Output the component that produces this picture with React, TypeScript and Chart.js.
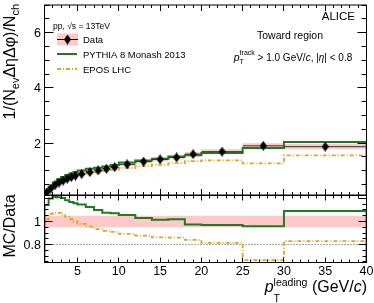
import React, { useEffect, useRef } from 'react';
import { Chart, registerables } from 'chart.js';

Chart.register(...registerables);

const FONT = '"Liberation Sans", Arial, Helvetica, sans-serif';

// ---------------- data ----------------
const binEdges = [1, 1.5, 2, 2.5, 3, 3.5, 4, 4.5, 5, 6, 7, 8, 9, 10, 12, 14, 16, 18, 20, 25, 30, 40];
const dataValues = [0.21, 0.35, 0.47, 0.57, 0.64, 0.71, 0.77, 0.82, 0.88, 0.95, 1.01, 1.07, 1.13, 1.23, 1.33, 1.41, 1.48, 1.6, 1.69, 1.9, 1.87];
const dataStatErr = [0.004, 0.005, 0.006, 0.007, 0.008, 0.009, 0.01, 0.011, 0.012, 0.014, 0.016, 0.018, 0.02, 0.02, 0.024, 0.028, 0.032, 0.036, 0.035, 0.05, 0.055];
const dataSysFrac = [0.05, 0.05, 0.05, 0.05, 0.05, 0.05, 0.05, 0.05, 0.05, 0.05, 0.05, 0.05, 0.05, 0.05, 0.05, 0.05, 0.05, 0.05, 0.05, 0.05, 0.05];
const pythiaValues = [0.24, 0.42, 0.57, 0.69, 0.77, 0.84, 0.9, 0.95, 1.01, 1.07, 1.11, 1.15, 1.21, 1.3, 1.37, 1.43, 1.51, 1.56, 1.64, 1.82, 2.04];
const eposValues = [0.214, 0.373, 0.505, 0.613, 0.678, 0.738, 0.785, 0.82, 0.862, 0.907, 0.944, 0.984, 1.028, 1.098, 1.168, 1.215, 1.273, 1.344, 1.377, 1.264, 1.552];

const xTickLabels = [5, 10, 15, 20, 25, 30, 35, 40];
const topYTickLabels = [2, 4, 6];
const ratioYTickLabels = [0.8, 1];
const ratioRefLine = 0.8;

const X_MIN = 1, X_MAX = 40;
const TOP_Y_MIN = 0.12, TOP_Y_MAX = 7;
const RATIO_Y_MIN = 0.645, RATIO_Y_MAX = 1.225;

// ---------------- style ----------------
const GREEN = '#207a20';
const ORANGE = '#dba526';
const PINK = '#ffc9c9';
const DASHDOT = [4, 2, 1, 2];

const TOP_CANVAS_H = 200;
const BOT_CANVAS_TOP = 190;
const BOT_CANVAS_H = 113;

// ---------------- helpers ----------------
const nBins = binEdges.length - 1;
const centers = dataValues.map((_, i) => (binEdges[i] + binEdges[i + 1]) / 2);

// stepped 'before': horizontal at previous value, then vertical at the new point
function histPoints(values: number[], base: number) {
  const pts: { x: number; y: number | null }[] = [{ x: binEdges[0], y: base }];
  pts.push({ x: binEdges[0], y: values[0] });
  values.forEach((v, i) => pts.push({ x: binEdges[i + 1], y: i + 1 < values.length ? values[i + 1] : v }));
  pts.push({ x: binEdges[nBins], y: base });
  return pts;
}
function stepPoints(values: number[]) {
  const pts: { x: number; y: number | null }[] = [{ x: binEdges[0], y: values[0] }];
  values.forEach((v, i) => pts.push({ x: binEdges[i + 1], y: i + 1 < values.length ? values[i + 1] : v }));
  return pts;
}
function xErrPoints(values: number[]) {
  const pts: { x: number; y: number | null }[] = [];
  values.forEach((v, i) => {
    pts.push({ x: binEdges[i], y: v });
    pts.push({ x: binEdges[i + 1], y: v });
    pts.push({ x: binEdges[i + 1], y: null });
  });
  return pts;
}
function yErrPoints(values: number[], errs: number[]) {
  const pts: { x: number; y: number | null }[] = [];
  values.forEach((v, i) => {
    pts.push({ x: centers[i], y: v - errs[i] });
    pts.push({ x: centers[i], y: v + errs[i] });
    pts.push({ x: centers[i], y: null });
  });
  return pts;
}

function makeDiamond(w: number, h: number, color: string) {
  const c = document.createElement('canvas');
  c.width = w;
  c.height = h;
  const g = c.getContext('2d')!;
  g.fillStyle = color;
  g.beginPath();
  g.moveTo(w / 2, 0);
  g.lineTo(w, h / 2);
  g.lineTo(w / 2, h);
  g.lineTo(0, h / 2);
  g.closePath();
  g.fill();
  return c;
}

type Run = { t?: string; sup?: string; sub?: string; size: number; italic?: boolean; supDy?: number; subDy?: number };
function fontStr(size: number, italic?: boolean) {
  return `${italic ? 'italic ' : ''}${size}px ${FONT}`;
}
function runWidth(ctx: CanvasRenderingContext2D, r: Run) {
  ctx.font = fontStr(r.size, r.italic);
  if (r.t !== undefined) return ctx.measureText(r.t).width;
  const a = r.sup ? ctx.measureText(r.sup).width : 0;
  const b = r.sub ? ctx.measureText(r.sub).width : 0;
  return Math.max(a, b);
}
function drawRuns(ctx: CanvasRenderingContext2D, runs: Run[], x: number, y: number, align: 'left' | 'right' | 'center') {
  const widths = runs.map((r) => runWidth(ctx, r));
  const total = widths.reduce((s, w) => s + w, 0);
  let cx = align === 'left' ? x : align === 'right' ? x - total : x - total / 2;
  ctx.textAlign = 'left';
  ctx.textBaseline = 'alphabetic';
  runs.forEach((r, i) => {
    ctx.font = fontStr(r.size, r.italic);
    if (r.t !== undefined) ctx.fillText(r.t, cx, y);
    else {
      if (r.sup) ctx.fillText(r.sup, cx, y - (r.supDy ?? 5));
      if (r.sub) ctx.fillText(r.sub, cx, y + (r.subDy ?? 3.5));
    }
    cx += widths[i];
  });
}

const crisp = (v: number) => Math.round(v - 0.5) + 0.5;

type FrameCfg = {
  xMinor: number; xMajor: number; xMajorLen: number; xMinorLen: number;
  yMinor: number; yMajor: number; yMajorLen: number; yMinorLen: number;
  yLabels: number[]; xLabels: number[] | null; offsetY: number;
};

function drawFrame(chart: any, cfg: FrameCfg) {
  const { ctx, chartArea: a, scales } = chart;
  const xs = scales.x, ys = scales.y;
  ctx.save();
  ctx.strokeStyle = '#000';
  ctx.lineWidth = 1;
  ctx.setLineDash([]);
  ctx.strokeRect(a.left, a.top, a.right - a.left, a.bottom - a.top);
  ctx.beginPath();
  for (let k = Math.ceil(xs.min / cfg.xMinor - 1e-6); k * cfg.xMinor <= xs.max + 1e-6; k++) {
    const v = k * cfg.xMinor;
    const px = crisp(xs.getPixelForValue(v));
    const r = v / cfg.xMajor;
    const major = Math.abs(r - Math.round(r)) < 1e-6;
    const len = major ? cfg.xMajorLen : cfg.xMinorLen;
    ctx.moveTo(px, a.bottom);
    ctx.lineTo(px, a.bottom - len);
    ctx.moveTo(px, a.top);
    ctx.lineTo(px, a.top + len);
  }
  for (let k = Math.ceil(ys.min / cfg.yMinor - 1e-6); k * cfg.yMinor <= ys.max + 1e-6; k++) {
    const v = k * cfg.yMinor;
    const py = crisp(ys.getPixelForValue(v));
    const r = v / cfg.yMajor;
    const major = Math.abs(r - Math.round(r)) < 1e-6;
    const len = major ? cfg.yMajorLen : cfg.yMinorLen;
    ctx.moveTo(a.left, py);
    ctx.lineTo(a.left + len, py);
    ctx.moveTo(a.right, py);
    ctx.lineTo(a.right - len, py);
  }
  ctx.stroke();
  ctx.fillStyle = '#000';
  ctx.font = fontStr(12.5);
  ctx.textAlign = 'right';
  ctx.textBaseline = 'alphabetic';
  cfg.yLabels.forEach((v) => {
    ctx.fillText(String(v), a.left - 3.5, ys.getPixelForValue(v) + 4.5);
  });
  if (cfg.xLabels) {
    ctx.textAlign = 'center';
    cfg.xLabels.forEach((v) => {
      ctx.fillText(String(v), xs.getPixelForValue(v), 274.5 - cfg.offsetY);
    });
  }
  ctx.restore();
}

const topDecor = (diamond: HTMLCanvasElement) => ({
  id: 'topDecor',
  afterDraw(chart: any) {
    drawFrame(chart, {
      xMinor: 1, xMajor: 5, xMajorLen: 6, xMinorLen: 3,
      yMinor: 0.5, yMajor: 2, yMajorLen: 9, yMinorLen: 5,
      yLabels: topYTickLabels, xLabels: null, offsetY: 0,
    });
    const ctx: CanvasRenderingContext2D = chart.ctx;
    ctx.save();
    ctx.fillStyle = '#000';
    // y title (rotated)
    ctx.save();
    ctx.translate(15, 4);
    ctx.rotate(-Math.PI / 2);
    drawRuns(ctx, [
      { t: '1/(N', size: 16 },
      { sub: 'ev', size: 11, subDy: 4 },
      { t: 'ΔηΔφ)/N', size: 16 },
      { sub: 'ch', size: 11, subDy: 4 },
    ], 0, 0, 'right');
    ctx.restore();
    // header texts
    ctx.font = fontStr(11.5);
    ctx.textAlign = 'right';
    ctx.fillText('ALICE', 355, 20);
    ctx.font = fontStr(10.5);
    ctx.textAlign = 'center';
    ctx.fillText('Toward region', 290, 38.5);
    drawRuns(ctx, [
      { t: 'p', size: 10.5, italic: true },
      { sup: 'track', sub: 'T', size: 7, supDy: 5.5, subDy: 3.5 },
      { t: ' > 1.0 GeV/', size: 10 },
      { t: 'c', size: 10, italic: true },
      { t: ', |', size: 10 },
      { t: 'η', size: 10, italic: true },
      { t: '| < 0.8', size: 10 },
    ], 293, 60.5, 'center');
    // legend
    ctx.font = fontStr(8.5);
    ctx.textAlign = 'left';
    ctx.fillText('pp, √s = 13TeV', 53, 28.5);
    ctx.fillStyle = PINK;
    ctx.fillRect(57, 33.5, 21, 12);
    ctx.strokeStyle = '#000';
    ctx.lineWidth = 1;
    ctx.beginPath();
    ctx.moveTo(57, 39.5);
    ctx.lineTo(78, 39.5);
    ctx.stroke();
    ctx.drawImage(diamond, 67.5 - diamond.width / 2, 39.5 - diamond.height / 2);
    ctx.strokeStyle = GREEN;
    ctx.lineWidth = 2;
    ctx.beginPath();
    ctx.moveTo(57, 54);
    ctx.lineTo(77, 54);
    ctx.stroke();
    ctx.strokeStyle = ORANGE;
    ctx.setLineDash(DASHDOT);
    ctx.beginPath();
    ctx.moveTo(57, 69);
    ctx.lineTo(77, 69);
    ctx.stroke();
    ctx.setLineDash([]);
    ctx.fillStyle = '#000';
    ctx.font = fontStr(9.5);
    ctx.fillText('Data', 83, 43);
    ctx.fillText('PYTHIA 8 Monash 2013', 83, 57.5);
    ctx.fillText('EPOS LHC', 83, 72.5);
    ctx.restore();
  },
});

const botDecor = {
  id: 'botDecor',
  afterDraw(chart: any) {
    drawFrame(chart, {
      xMinor: 1, xMajor: 5, xMajorLen: 5, xMinorLen: 3,
      yMinor: 0.05, yMajor: 0.2, yMajorLen: 8, yMinorLen: 4,
      yLabels: ratioYTickLabels, xLabels: xTickLabels, offsetY: BOT_CANVAS_TOP,
    });
    const ctx: CanvasRenderingContext2D = chart.ctx;
    ctx.save();
    ctx.fillStyle = '#000';
    ctx.save();
    ctx.translate(15, 226 - BOT_CANVAS_TOP);
    ctx.rotate(-Math.PI / 2);
    drawRuns(ctx, [{ t: 'MC/Data', size: 16 }], 0, 0, 'center');
    ctx.restore();
    drawRuns(ctx, [
      { t: 'p', size: 16, italic: true },
      { sup: 'leading', sub: 'T', size: 10.5, supDy: 6, subDy: 10 },
      { t: ' (GeV/', size: 16 },
      { t: 'c', size: 16, italic: true },
      { t: ')', size: 16 },
    ], 367, 292 - BOT_CANVAS_TOP, 'right');
    ctx.restore();
  },
};

function baseOptions(yMin: number, yMax: number, padding: any) {
  return {
    responsive: false,
    animation: false as const,
    devicePixelRatio: 1,
    events: [] as any[],
    layout: { padding },
    plugins: { legend: { display: false }, tooltip: { enabled: false } },
    scales: {
      x: { type: 'linear' as const, min: X_MIN, max: X_MAX, display: false },
      y: { type: 'linear' as const, min: yMin, max: yMax, display: false },
    },
    elements: { point: { radius: 0 }, line: { tension: 0 } },
  };
}

export default function App() {
  const topRef = useRef<HTMLCanvasElement>(null);
  const botRef = useRef<HTMLCanvasElement>(null);

  useEffect(() => {
    const diamond = makeDiamond(7, 10, '#000');
    const bandLow = dataValues.map((v, i) => v * (1 - dataSysFrac[i]));
    const bandHigh = dataValues.map((v, i) => v * (1 + dataSysFrac[i]));
    const top = new Chart(topRef.current!, {
      type: 'line',
      data: {
        datasets: [
          { data: stepPoints(bandLow), stepped: 'before', borderWidth: 0, borderColor: 'rgba(0,0,0,0)', fill: false, order: 10, pointRadius: 0 },
          { data: stepPoints(bandHigh), stepped: 'before', borderWidth: 0, borderColor: 'rgba(0,0,0,0)', backgroundColor: PINK, fill: '-1', order: 9, pointRadius: 0 },
          { data: histPoints(pythiaValues, TOP_Y_MIN), stepped: 'before', borderColor: GREEN, borderWidth: 2, fill: false, order: 6, pointRadius: 0 },
          { data: histPoints(eposValues, TOP_Y_MIN), stepped: 'before', borderColor: ORANGE, borderWidth: 1.8, borderDash: DASHDOT, fill: false, order: 5, pointRadius: 0 },
          { data: xErrPoints(dataValues), borderColor: '#333', borderWidth: 1, fill: false, order: 4, pointRadius: 0, spanGaps: false },
          { data: yErrPoints(dataValues, dataStatErr), borderColor: '#000', borderWidth: 1, fill: false, order: 3, pointRadius: 0, spanGaps: false },
          { data: dataValues.map((v, i) => ({ x: centers[i], y: v })), showLine: false, pointStyle: diamond as any, pointRadius: 4, order: 2 },
        ] as any,
      },
      options: baseOptions(TOP_Y_MIN, TOP_Y_MAX, { left: 44.5, right: 7.5, top: 4.5, bottom: TOP_CANVAS_H - 195.5 }) as any,
      plugins: [topDecor(diamond)],
    });

    const ratioLow = dataSysFrac.map((s) => 1 - s);
    const ratioHigh = dataSysFrac.map((s) => 1 + s);
    const pythiaRatio = pythiaValues.map((v, i) => v / dataValues[i]);
    const eposRatio = eposValues.map((v, i) => v / dataValues[i]);
    const bot = new Chart(botRef.current!, {
      type: 'line',
      data: {
        datasets: [
          { data: stepPoints(ratioLow), stepped: 'before', borderWidth: 0, borderColor: 'rgba(0,0,0,0)', fill: false, order: 10, pointRadius: 0 },
          { data: stepPoints(ratioHigh), stepped: 'before', borderWidth: 0, borderColor: 'rgba(0,0,0,0)', backgroundColor: PINK, fill: '-1', order: 9, pointRadius: 0 },
          { data: [{ x: X_MIN, y: ratioRefLine }, { x: X_MAX, y: ratioRefLine }], borderColor: '#444', borderWidth: 1, borderDash: [1, 2], fill: false, order: 8, pointRadius: 0 },
          { data: histPoints(pythiaRatio, RATIO_Y_MIN), stepped: 'before', borderColor: GREEN, borderWidth: 2, fill: false, order: 6, pointRadius: 0 },
          { data: histPoints(eposRatio, RATIO_Y_MIN), stepped: 'before', borderColor: ORANGE, borderWidth: 1.8, borderDash: DASHDOT, fill: false, order: 5, pointRadius: 0 },
        ] as any,
      },
      options: baseOptions(RATIO_Y_MIN, RATIO_Y_MAX, { left: 44.5, right: 7.5, top: 195.5 - BOT_CANVAS_TOP, bottom: BOT_CANVAS_TOP + BOT_CANVAS_H - 262.5 }) as any,
      plugins: [botDecor],
    });
    return () => {
      top.destroy();
      bot.destroy();
    };
  }, []);

  return (
    <div style={{ position: 'absolute', left: 0, top: 0, width: 374, height: 303, background: '#fff', overflow: 'hidden' }}>
      <canvas ref={topRef} width={374} height={TOP_CANVAS_H} style={{ position: 'absolute', left: 0, top: 0, width: 374, height: TOP_CANVAS_H }} />
      <canvas ref={botRef} width={374} height={BOT_CANVAS_H} style={{ position: 'absolute', left: 0, top: BOT_CANVAS_TOP, width: 374, height: BOT_CANVAS_H }} />
    </div>
  );
}
